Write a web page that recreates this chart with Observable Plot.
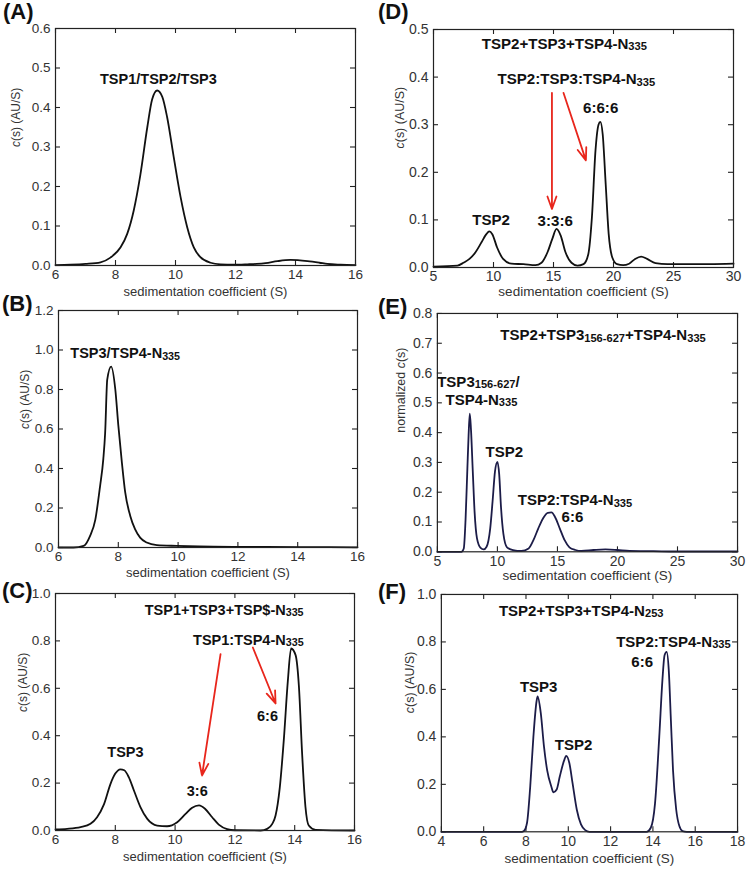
<!DOCTYPE html>
<html><head><meta charset="utf-8">
<script src="https://cdn.jsdelivr.net/npm/d3@7"></script>
<script src="https://cdn.jsdelivr.net/npm/@observablehq/plot@0.6"></script>
<style>
body{margin:0;background:#fff;font-family:"Liberation Sans",Arial,sans-serif;}
#root{position:relative;width:751px;height:875px;overflow:hidden;background:#fff;}
.plabel{position:absolute;font-weight:bold;font-size:22px;line-height:22px;color:#111;}
.pbox{position:absolute;}
</style></head><body><div id="root"></div>
<script>
// ---------- Panel A ----------
const sedA = [6, 6.5, 7, 7.5, 7.83, 8.17, 8.39, 8.61, 8.83, 9.06, 9.22, 9.39, 9.56, 9.72, 9.94, 10.17, 10.39, 10.61, 10.83, 11.17, 11.5, 11.94, 12.4, 12.7, 13.0, 13.4, 13.83, 14.4, 14.8, 15.06, 15.5, 16];
const csA  = [0.001, 0.002, 0.004, 0.008, 0.02, 0.046, 0.08, 0.14, 0.23, 0.35, 0.42, 0.443, 0.427, 0.376, 0.275, 0.173, 0.097, 0.046, 0.021, 0.007, 0.003, 0.002, 0.003, 0.004, 0.006, 0.011, 0.014, 0.011, 0.007, 0.004, 0.002, 0.001];
const xTicksA = [6, 8, 10, 12, 14, 16];
const yTicksA = [0, 0.1, 0.2, 0.3, 0.4, 0.5, 0.6];
const labelsA = ["TSP1/TSP2/TSP3"];
const labelXA = [9.43];
const labelYA = [0.471];

// ---------- Panel B ----------
const sedB = [6, 6.5, 6.84, 7.06, 7.23, 7.39, 7.5, 7.56, 7.63, 7.76, 7.9, 8.0, 8.12, 8.23, 8.4, 8.56, 8.73, 8.95, 9.29, 9.96, 10.7, 12.07, 14.1, 16];
const csB  = [0, 0, 0.008, 0.06, 0.14, 0.31, 0.45, 0.58, 0.85, 0.916, 0.80, 0.62, 0.43, 0.28, 0.16, 0.093, 0.05, 0.025, 0.012, 0.008, 0.005, 0.003, 0.002, 0.001];
const xTicksB = [6, 8, 10, 12, 14, 16];
const yTicksB = [0, 0.2, 0.4, 0.6, 0.8, 1.0, 1.2];
const labelsB = ["TSP3/TSP4-N~335~"];
const labelXB = [8.23];
const labelYB = [0.982];

// ---------- Panel C ----------
const sedC = [6, 6.39, 6.84, 7.17, 7.39, 7.62, 7.84, 8.0, 8.17, 8.3, 8.45, 8.62, 8.84, 9.07, 9.4, 9.73, 10.07, 10.35, 10.57, 10.8, 11.0, 11.24, 11.46, 11.74, 12.0, 12.86, 13.08, 13.25, 13.36, 13.5, 13.64, 13.77, 13.88, 14.03, 14.14, 14.25, 14.36, 14.47, 14.7, 16];
const csC  = [0.005, 0.007, 0.014, 0.028, 0.056, 0.11, 0.197, 0.24, 0.258, 0.254, 0.225, 0.17, 0.099, 0.049, 0.021, 0.018, 0.035, 0.07, 0.096, 0.106, 0.092, 0.056, 0.025, 0.006, 0.001, 0, 0.007, 0.028, 0.063, 0.18, 0.39, 0.63, 0.768, 0.74, 0.61, 0.32, 0.099, 0.021, 0.003, 0];
const xTicksC = [6, 8, 10, 12, 14, 16];
const yTicksC = [0, 0.2, 0.4, 0.6, 0.8, 1.0];
const labelsC = ["TSP1+TSP3+TSP$-N~335~", "TSP1:TSP4-N~335~", "6:6", "TSP3", "3:6"];
const labelXC = [11.64, 12.45, 13.09, 8.34, 10.74];
const labelYC = [0.93, 0.803, 0.482, 0.331, 0.166];
const arrowFromXC = [11.52, 12.6], arrowFromYC = [0.744, 0.772];
const arrowToXC = [10.9, 13.36], arrowToYC = [0.232, 0.536];

// ---------- Panel D ----------
const sedD = [5, 7, 7.5, 8, 8.5, 9, 9.4, 9.65, 9.9, 10.3, 10.8, 11.5, 12.5, 13.5, 14, 14.5, 14.9, 15.25, 15.6, 16, 16.5, 17, 17.5, 17.9, 18.2, 18.5, 18.75, 18.9, 19.1, 19.35, 19.6, 19.9, 20.3, 20.8, 21.3, 21.8, 22.3, 22.8, 23.5, 24.5, 26, 28, 30];
const csD  = [0.002, 0.004, 0.01, 0.018, 0.032, 0.053, 0.07, 0.076, 0.07, 0.042, 0.018, 0.008, 0.007, 0.005, 0.01, 0.032, 0.06, 0.081, 0.067, 0.032, 0.01, 0.004, 0.007, 0.028, 0.105, 0.246, 0.30, 0.306, 0.28, 0.175, 0.07, 0.021, 0.007, 0.005, 0.008, 0.018, 0.023, 0.018, 0.009, 0.007, 0.007, 0.007, 0.008];
const xTicksD = [5, 10, 15, 20, 25, 30];
const yTicksD = [0, 0.1, 0.2, 0.3, 0.4, 0.5];
const labelsD = ["TSP2+TSP3+TSP4-N~335~", "TSP2:TSP3:TSP4-N~335~", "6:6:6", "TSP2", "3:3:6"];
const labelXD = [15.9, 16.9, 18.93, 9.8, 15.14];
const labelYD = [0.47, 0.395, 0.334, 0.1, 0.098];
const arrowFromXD = [14.87, 15.83], arrowFromYD = [0.367, 0.367];
const arrowToXD = [14.87, 17.7], arrowToYD = [0.123, 0.225];

// ---------- Panel E ----------
const sedE = [5, 7, 7.2, 7.35, 7.5, 7.6, 7.7, 7.8, 7.95, 8.1, 8.3, 8.6, 8.85, 9.1, 9.4, 9.6, 9.8, 10.0, 10.15, 10.3, 10.5, 10.8, 11.3, 12, 12.6, 13.0, 13.4, 13.8, 14.2, 14.5, 14.8, 15.2, 15.6, 16, 16.5, 17, 18, 19, 20, 21, 23, 25, 30];
const csE  = [0, 0, 0.011, 0.11, 0.28, 0.39, 0.464, 0.41, 0.27, 0.134, 0.045, 0.013, 0.008, 0.017, 0.078, 0.17, 0.27, 0.302, 0.26, 0.15, 0.06, 0.015, 0.006, 0.003, 0.011, 0.039, 0.078, 0.112, 0.131, 0.132, 0.117, 0.078, 0.039, 0.015, 0.006, 0.003, 0.006, 0.008, 0.006, 0.003, 0.002, 0.001, 0.001];
const xTicksE = [5, 10, 15, 20, 25, 30];
const yTicksE = [0, 0.1, 0.2, 0.3, 0.4, 0.5, 0.6, 0.7, 0.8];
const labelsE = ["TSP2+TSP3~156-627~+TSP4-N~335~", "TSP3~156-627~/", "TSP4-N~335~", "TSP2", "TSP2:TSP4-N~335~", "6:6"];
const labelXE = [18.8, 8.42, 8.67, 10.58, 16.46, 16.25];
const labelYE = [0.727, 0.57, 0.509, 0.333, 0.173, 0.117];

// ---------- Panel F ----------
const sedF = [4, 7.8, 7.9, 8.05, 8.2, 8.35, 8.5, 8.55, 8.7, 8.85, 9.0, 9.2, 9.3, 9.45, 9.6, 9.8, 9.9, 10.05, 10.2, 10.4, 10.6, 10.8, 11, 13.7, 13.9, 14.1, 14.3, 14.45, 14.55, 14.65, 14.75, 14.85, 14.95, 15.1, 15.25, 15.4, 15.6, 18];
const csF  = [0, 0, 0.003, 0.038, 0.19, 0.40, 0.55, 0.57, 0.5, 0.36, 0.26, 0.19, 0.166, 0.178, 0.234, 0.30, 0.32, 0.29, 0.206, 0.094, 0.031, 0.007, 0, 0, 0.017, 0.12, 0.40, 0.64, 0.744, 0.758, 0.68, 0.47, 0.26, 0.094, 0.024, 0.003, 0, 0];
const xTicksF = [4, 6, 8, 10, 12, 14, 16, 18];
const yTicksF = [0, 0.2, 0.4, 0.6, 0.8, 1.0];
const labelsF = ["TSP2+TSP3+TSP4-N~253~", "TSP2:TSP4-N~335~", "6:6", "TSP3", "TSP2"];
const labelXF = [10.61, 14.97, 13.49, 8.6, 10.25];
const labelYF = [0.93, 0.80, 0.716, 0.608, 0.366];

const xLabel = "sedimentation coefficient (S)";
const yLabel = "*c*(s) (AU/S)";
const yLabelE = "normalized *c*(s)";

// ---------- helpers ----------
const SVGNS = "http://www.w3.org/2000/svg";
function richify(svg) {
  svg.querySelectorAll("text, tspan").forEach(el => {
    if (el.childNodes.length !== 1 || el.firstChild.nodeType !== 3) return;
    const t = el.textContent;
    if (!/[*~]/.test(t)) return;
    el.textContent = "";
    const parts = t.split(/(\*[^*]+\*|~[^~]+~)/).filter(p => p);
    let shifted = 0;
    for (const p of parts) {
      const ts = document.createElementNS(SVGNS, "tspan");
      if (p[0] === "~") {
        ts.textContent = p.slice(1, -1);
        ts.setAttribute("font-size", "74%");
        if (!shifted) { ts.setAttribute("dy", "1.5"); shifted = 1; }
      } else if (p[0] === "*") {
        ts.textContent = p.slice(1, -1);
        ts.setAttribute("font-style", "italic");
        if (shifted) { ts.setAttribute("dy", "-1.5"); shifted = 0; }
      } else {
        ts.textContent = p;
        if (shifted) { ts.setAttribute("dy", "-1.5"); shifted = 0; }
      }
      el.appendChild(ts);
    }
  });
}

const root = document.getElementById("root");

function panel(cfg) {
  const [L, T, R, B] = cfg.frame;
  const ml = 50, mr = 14, mt = 14, mb = 45;
  const pw = R - L, ph = B - T;
  const data = cfg.s.map((v, i) => ({s: v, c: cfg.c[i]}));
  const ann = cfg.labels.map((t, i) => ({t, x: cfg.lx[i], y: cfg.ly[i]}));
  const arr = (cfg.ax1 || []).map((v, i) => ({x1: v, y1: cfg.ay1[i], x2: cfg.ax2[i], y2: cfg.ay2[i]}));
  const k = cfg.scale;
  const svg = Plot.plot({
    width: pw + ml + mr, height: ph + mt + mb,
    marginLeft: ml, marginRight: mr, marginTop: mt, marginBottom: mb,
    style: {background: "transparent", overflow: "visible", fontFamily: "'Liberation Sans', Arial, sans-serif", fontSize: (13.5 * k) + "px"},
    x: {domain: cfg.xd},
    y: {domain: cfg.yd},
    marks: [
      Plot.axisX(cfg.xt, {anchor: "bottom", tickSize: 0, tickPadding: 4, color: "#333", label: null, tickFormat: d => String(d)}),
      Plot.axisY(cfg.yt, {anchor: "left", tickSize: 0, tickPadding: 5, color: "#333", label: null, tickFormat: d3.format(".1f")}),
      Plot.tickX(cfg.xt, {x: d => d, insetTop: ph - 5, stroke: "#222", strokeWidth: 1.1}),
      Plot.tickX(cfg.xt, {x: d => d, insetBottom: ph - 5, stroke: "#222", strokeWidth: 1.1}),
      Plot.tickY(cfg.yt, {y: d => d, insetRight: pw - 5, stroke: "#222", strokeWidth: 1.1}),
      Plot.tickY(cfg.yt, {y: d => d, insetLeft: pw - 5, stroke: "#222", strokeWidth: 1.1}),
      Plot.line(data, {x: "s", y: "c", curve: "monotone-x", stroke: cfg.stroke, strokeWidth: 1.8}),
      Plot.frame({stroke: "#222", strokeWidth: 1.2}),
      Plot.arrow(arr, {x1: "x1", y1: "y1", x2: "x2", y2: "y2", stroke: "#e8261c", strokeWidth: 1.8, headLength: 11, headAngle: 40}),
      Plot.text(ann, {x: "x", y: "y", text: "t", fontWeight: "bold", fontSize: 14.5 * k, fill: "#111"}),
      Plot.text([xLabel], {frameAnchor: "bottom", dy: cfg.xdy, fontSize: 13 * k, fill: "#333"}),
      Plot.text([cfg.ylabel], {frameAnchor: "left", dx: cfg.ydx, rotate: -90, fontSize: 12 * k, fill: "#333"})
    ]
  });
  richify(svg);
  const box = document.createElement("div");
  box.className = "pbox";
  box.style.left = (L - ml) + "px";
  box.style.top = (T - mt) + "px";
  box.appendChild(svg);
  root.appendChild(box);
  const lab = document.createElement("div");
  lab.className = "plabel";
  lab.textContent = cfg.name;
  lab.style.left = cfg.namePos[0] + "px";
  lab.style.top = cfg.namePos[1] + "px";
  root.appendChild(lab);
}

panel({name: "(A)", namePos: [3, 1], frame: [55, 28, 355, 265], s: sedA, c: csA, xd: [6, 16], yd: [0, 0.6], xt: xTicksA, yt: yTicksA,
  labels: labelsA, lx: labelXA, ly: labelYA, stroke: "#111", ylabel: yLabel, ydx: -39, xdy: 30, scale: 1});
panel({name: "(B)", namePos: [2, 293], frame: [58, 310, 357, 547], s: sedB, c: csB, xd: [6, 16], yd: [0, 1.2], xt: xTicksB, yt: yTicksB,
  labels: labelsB, lx: labelXB, ly: labelYB, stroke: "#111", ylabel: yLabel, ydx: -33, xdy: 29, scale: 1});
panel({name: "(C)", namePos: [2, 580], frame: [55, 593, 354, 830], s: sedC, c: csC, xd: [6, 16], yd: [0, 1], xt: xTicksC, yt: yTicksC,
  labels: labelsC, lx: labelXC, ly: labelYC, ax1: arrowFromXC, ay1: arrowFromYC, ax2: arrowToXC, ay2: arrowToYC,
  stroke: "#111", ylabel: yLabel, ydx: -32, xdy: 30, scale: 1});
panel({name: "(D)", namePos: [378, 1], frame: [433, 29, 733, 267], s: sedD, c: csD, xd: [5, 30], yd: [0, 0.5], xt: xTicksD, yt: yTicksD,
  labels: labelsD, lx: labelXD, ly: labelYD, ax1: arrowFromXD, ay1: arrowFromYD, ax2: arrowToXD, ay2: arrowToYD,
  stroke: "#111", ylabel: yLabel, ydx: -34, xdy: 28, scale: 1.04});
panel({name: "(E)", namePos: [378, 296], frame: [437, 313, 738, 552], s: sedE, c: csE, xd: [5, 30], yd: [0, 0.8], xt: xTicksE, yt: yTicksE,
  labels: labelsE, lx: labelXE, ly: labelYE, stroke: "#1c1c48", ylabel: yLabelE, ydx: -36, xdy: 28, scale: 1.04});
panel({name: "(F)", namePos: [378, 581], frame: [441, 594, 738, 832], s: sedF, c: csF, xd: [4, 18], yd: [0, 1], xt: xTicksF, yt: yTicksF,
  labels: labelsF, lx: labelXF, ly: labelYF, stroke: "#1c1c48", ylabel: yLabel, ydx: -31, xdy: 31, scale: 1.04});
</script>
</body></html>
